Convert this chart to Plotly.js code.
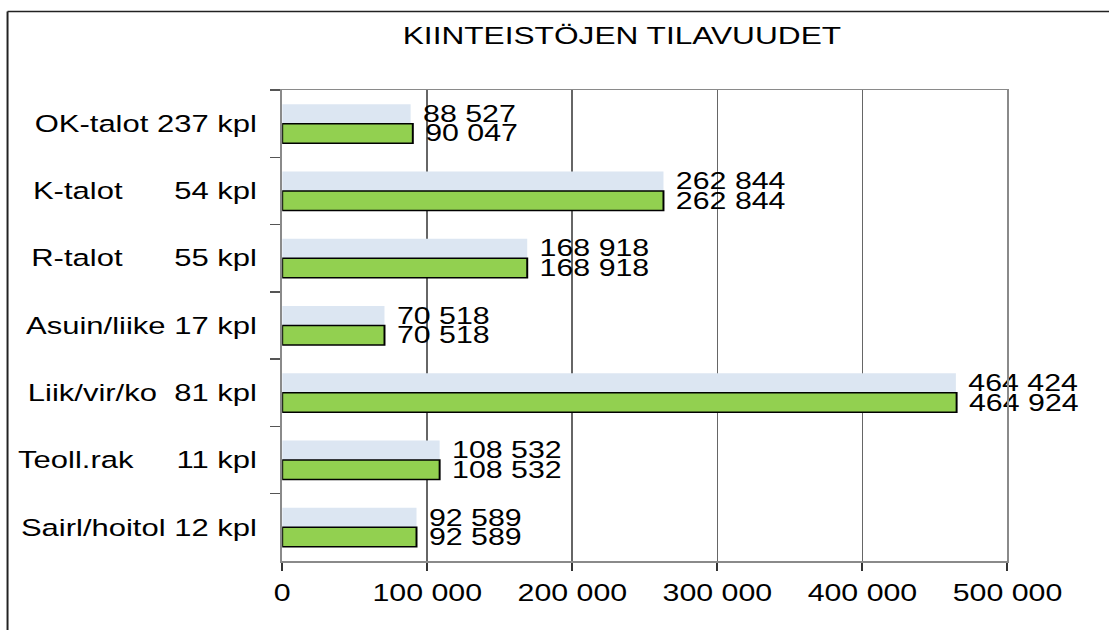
<!DOCTYPE html>
<html>
<head>
<meta charset="utf-8">
<script src="https://cdn.plot.ly/plotly-3.0.1.min.js"></script>
<style>
  html, body { margin: 0; padding: 0; background: #fff; overflow: hidden; }
  #chart { width: 841px; height: 630px; transform: scaleX(1.3187); transform-origin: 0 0; }
</style>
</head>
<body>
<div id="chart"></div>
<script>
// ---- data ----
const chartTitle = 'KIINTEISTÖJEN TILAVUUDET';
const categories = [
  'OK-talot 237 kpl',
  'K-talot      54 kpl',
  'R-talot      55 kpl',
  'Asuin/liike 17 kpl',
  'Liik/vir/ko  81 kpl',
  'Teoll.rak     11 kpl',
  'Sairl/hoitol 12 kpl'
];
const seriesA = [88527, 262844, 168918, 70518, 464424, 108532, 92589];  // light blue
const seriesB = [90047, 262844, 168918, 70518, 464924, 108532, 92589];  // green
const xTickVals = [0, 100000, 200000, 300000, 400000, 500000];

// ---- helpers ----
const nb = s => s.replace(/ /g, '\u00a0');
const fmt = v => String(v).replace(/\B(?=(\d{3})+(?!\d))/g, ' ');
const cats = categories.map(nb);
const FONT = 'Liberation Sans, Arial, sans-serif';

const traceA = {
  type: 'bar', orientation: 'h',
  x: seriesA, y: cats,
  marker: { color: '#DCE6F2', line: { width: 0 } },
  text: seriesA.map(v => '\u00a0' + fmt(v)),
  textposition: 'outside', constraintext: 'none', cliponaxis: false,
  textfont: { family: FONT, size: 23, color: '#000' },
  hoverinfo: 'x+y'
};
const traceB = {
  type: 'bar', orientation: 'h',
  x: seriesB, y: cats,
  marker: { color: '#92D050', line: { color: '#000', width: 1.5 } },
  text: seriesB.map(v => '\u00a0' + fmt(v)),
  textposition: 'outside', constraintext: 'none', cliponaxis: false,
  textfont: { family: FONT, size: 23, color: '#000' },
  hoverinfo: 'x+y'
};

const layout = {
  width: 841, height: 630,
  margin: { l: 214, r: 77, t: 90, b: 69 },
  paper_bgcolor: '#fff', plot_bgcolor: '#fff',
  showlegend: false,
  barmode: 'group', bargap: 0.42, bargroupgap: 0,
  separators: ', ',
  font: { family: FONT, color: '#000' },
  title: {
    text: chartTitle,
    font: { family: FONT, size: 24, color: '#000' },
    xref: 'container', yref: 'container',
    x: 0.5608, xanchor: 'center',
    y: 0.944, yanchor: 'middle'
  },
  xaxis: {
    range: [0, 500000],
    tickvals: xTickVals,
    ticktext: xTickVals.map(fmt),
    ticks: 'outside', ticklen: 8, tickwidth: 1.5, tickcolor: '#333',
    tickfont: { family: FONT, size: 23, color: '#000' },
    ticklabelstandoff: 3,
    showgrid: true, gridcolor: '#666', gridwidth: 1.3,
    zeroline: false,
    showline: true, mirror: true, linecolor: '#8a8a8a', linewidth: 1.5,
    fixedrange: true
  },
  yaxis: {
    type: 'category',
    autorange: 'reversed',
    tickson: 'boundaries',
    ticks: 'outside', ticklen: 8, tickwidth: 1.5, tickcolor: '#555',
    tickfont: { family: FONT, size: 23.5, color: '#000' },
    ticklabelstandoff: 13,
    showgrid: false, zeroline: false,
    showline: true, mirror: true, linecolor: '#8a8a8a', linewidth: 1.5,
    fixedrange: true
  },
  shapes: [
    { type: 'line', xref: 'paper', yref: 'paper', x0: -0.3787, x1: 1.147, y0: 1.1667, y1: 1.1667,
      line: { color: '#222', width: 1.5 } },
    { type: 'line', xref: 'paper', yref: 'paper', x0: -0.3787, x1: -0.3787, y0: 1.1667, y1: -0.16,
      line: { color: '#222', width: 1.5 } }
  ]
};

Plotly.newPlot('chart', [traceA, traceB], layout, { displayModeBar: false, staticPlot: true });
</script>
</body>
</html>
